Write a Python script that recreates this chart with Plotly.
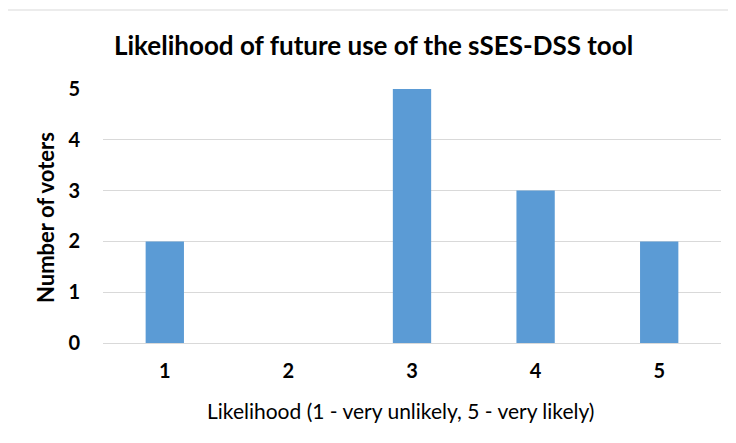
import plotly.graph_objects as go

categories = ["1", "2", "3", "4", "5"]
voters = [2, 0, 5, 3, 2]
y_ticks = [0, 1, 2, 3, 4, 5]

title_text = "Likelihood of future use of the sSES-DSS tool"
x_title = "Likelihood (1 - very unlikely, 5 - very likely)"
y_title = "Number of voters"

OFF = 8  # page body margin
W, H = 736 - OFF, 443 - OFF
# target plot area on the page: x 103..721, y 89..343
L, T = 103 - OFF, 89 - OFF
R = W - (721 - OFF)
B = H - (343 - OFF)
pw, ph = W - L - R, H - T - B

def px_x(p):
    return (p - OFF - L) / pw

def px_y(p):
    return (H - B - (p - OFF)) / ph

fig = go.Figure()
fig.add_trace(go.Bar(
    x=categories, y=voters,
    marker=dict(color="#5B9BD5", line=dict(width=0)),
    hoverinfo="x+y",
))

font_family = "Lato, 'Open Sans', sans-serif"

fig.update_layout(
    width=W, height=H,
    margin=dict(l=L, r=R, t=T, b=B),
    paper_bgcolor="white", plot_bgcolor="white",
    bargap=0.69,
    showlegend=False,
    font=dict(family=font_family, color="#000000"),
    xaxis=dict(
        type="category",
        tickfont=dict(size=20, weight="bold"),
        showgrid=False, showline=False, ticks="",
        ticklabelstandoff=14,
    ),
    yaxis=dict(
        range=[0, 5], tickvals=y_ticks,
        tickfont=dict(size=20, weight="bold"),
        showgrid=True, gridcolor="#d9d9d9", gridwidth=1,
        zeroline=True, zerolinecolor="#d9d9d9", zerolinewidth=1,
        showline=False, ticks="",
        ticklabelstandoff=22,
    ),
    shapes=[
        dict(type="line", xref="paper", yref="paper",
             x0=px_x(6), x1=px_x(800), y0=px_y(10), y1=px_y(10),
             line=dict(color="#d9d9d9", width=1), layer="below"),
        dict(type="line", xref="paper", yref="paper",
             x0=px_x(6), x1=px_x(6), y0=px_y(10), y1=px_y(500),
             line=dict(color="#d9d9d9", width=1), layer="below"),
    ],
    annotations=[
        dict(text=title_text, xref="paper", yref="paper",
             x=px_x(373), y=px_y(45), xanchor="center", yanchor="middle",
             showarrow=False, font=dict(size=26, weight="bold")),
        dict(text=x_title, xref="paper", yref="paper",
             x=px_x(400), y=px_y(410), xanchor="center", yanchor="middle",
             showarrow=False, font=dict(size=21)),
        dict(text=y_title, xref="paper", yref="paper",
             x=px_x(45), y=px_y(218), xanchor="center", yanchor="middle",
             textangle=-90, showarrow=False, font=dict(size=22, weight="bold")),
    ],
)

fig.write_html("out.html", config={"displayModeBar": False})
